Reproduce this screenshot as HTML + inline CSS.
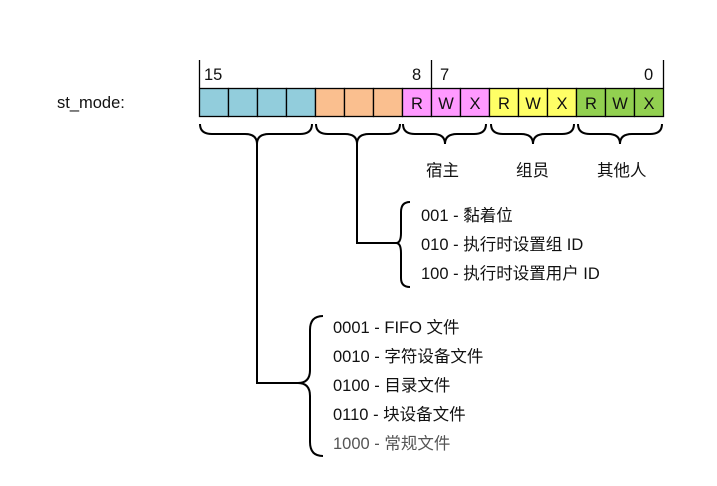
<!DOCTYPE html>
<html><head><meta charset="utf-8"><style>
body{margin:0;background:#fff;}
text{font-family:"Liberation Sans","Noto Sans CJK SC",sans-serif;font-size:16.5px;fill:#111;}
</style></head><body>
<svg width="717" height="481" viewBox="0 0 717 481" xmlns="http://www.w3.org/2000/svg">
<text x="57" y="108">st_mode:</text>
<g stroke="#000" stroke-width="1.3">
<line x1="199.5" y1="60" x2="199.5" y2="88"/>
<line x1="431.5" y1="60" x2="431.5" y2="88"/>
<line x1="663.5" y1="60" x2="663.5" y2="88"/>
</g>
<text x="204" y="80">15</text><text x="412" y="80">8</text><text x="440" y="80">7</text><text x="644" y="80">0</text>
<g stroke="#000" stroke-width="1.3">
<rect x="199.5" y="88.5" width="29" height="28" fill="#92cddc"/>
<rect x="228.5" y="88.5" width="29" height="28" fill="#92cddc"/>
<rect x="257.5" y="88.5" width="29" height="28" fill="#92cddc"/>
<rect x="286.5" y="88.5" width="29" height="28" fill="#92cddc"/>
<rect x="315.5" y="88.5" width="29" height="28" fill="#fabf8f"/>
<rect x="344.5" y="88.5" width="29" height="28" fill="#fabf8f"/>
<rect x="373.5" y="88.5" width="29" height="28" fill="#fabf8f"/>
<rect x="402.5" y="88.5" width="29" height="28" fill="#ff99ff"/>
<rect x="431.5" y="88.5" width="29" height="28" fill="#ff99ff"/>
<rect x="460.5" y="88.5" width="29" height="28" fill="#ff99ff"/>
<rect x="489.5" y="88.5" width="29" height="28" fill="#ffff66"/>
<rect x="518.5" y="88.5" width="29" height="28" fill="#ffff66"/>
<rect x="547.5" y="88.5" width="29" height="28" fill="#ffff66"/>
<rect x="576.5" y="88.5" width="29" height="28" fill="#92d050"/>
<rect x="605.5" y="88.5" width="29" height="28" fill="#92d050"/>
<rect x="634.5" y="88.5" width="29" height="28" fill="#92d050"/>
</g>
<g text-anchor="middle">
<text x="417" y="109">R</text><text x="446" y="109">W</text><text x="475" y="109">X</text>
<text x="504" y="109">R</text><text x="533" y="109">W</text><text x="562" y="109">X</text>
<text x="591" y="109">R</text><text x="620" y="109">W</text><text x="649" y="109">X</text>
</g>
<g fill="none" stroke="#000" stroke-width="2">
<path d="M200 124 Q200 134 212 134 L245 134 Q257 134 257 144 Q257 134 269 134 L300 134 Q312 134 312 124"/>
<path d="M316 124 Q316 134 328 134 L345 134 Q357 134 357 144 Q357 134 369 134 L388 134 Q400 134 400 124"/>
<path d="M403 124 Q403 134 415 134 L433 134 Q445 134 445 144 Q445 134 457 134 L474 134 Q486 134 486 124"/>
<path d="M491 124 Q491 134 503 134 L521 134 Q533 134 533 144 Q533 134 545 134 L562 134 Q574 134 574 124"/>
<path d="M578 124 Q578 134 590 134 L608 134 Q620 134 620 144 Q620 134 632 134 L650 134 Q662 134 662 124"/>
<path d="M257 144 L257 383 L298 383"/>
<path d="M357 144 L357 243 L396 243"/>
<path d="M410 202 Q401 202 401 212 L401 233 Q401 243 396 243 Q401 243 401 253 L401 278 Q401 287 410 287"/>
<path d="M323 316 Q310 316 310 330 L310 370 Q310 383 298 383 Q310 383 310 396 L310 442 Q310 456 323 456"/>
</g>
<text x="426" y="176">宿主</text><text x="516" y="176">组员</text><text x="597" y="176">其他人</text>
<text x="421" y="221">001 - 黏着位</text>
<text x="421" y="250">010 - 执行时设置组 ID</text>
<text x="421" y="279">100 - 执行时设置用户 ID</text>
<text x="333" y="333">0001 - FIFO 文件</text>
<text x="333" y="362">0010 - 字符设备文件</text>
<text x="333" y="391">0100 - 目录文件</text>
<text x="333" y="420">0110 - 块设备文件</text>
<text x="333" y="449" style="fill:#555">1000 -  常规文件</text>
</svg>
</body></html>
